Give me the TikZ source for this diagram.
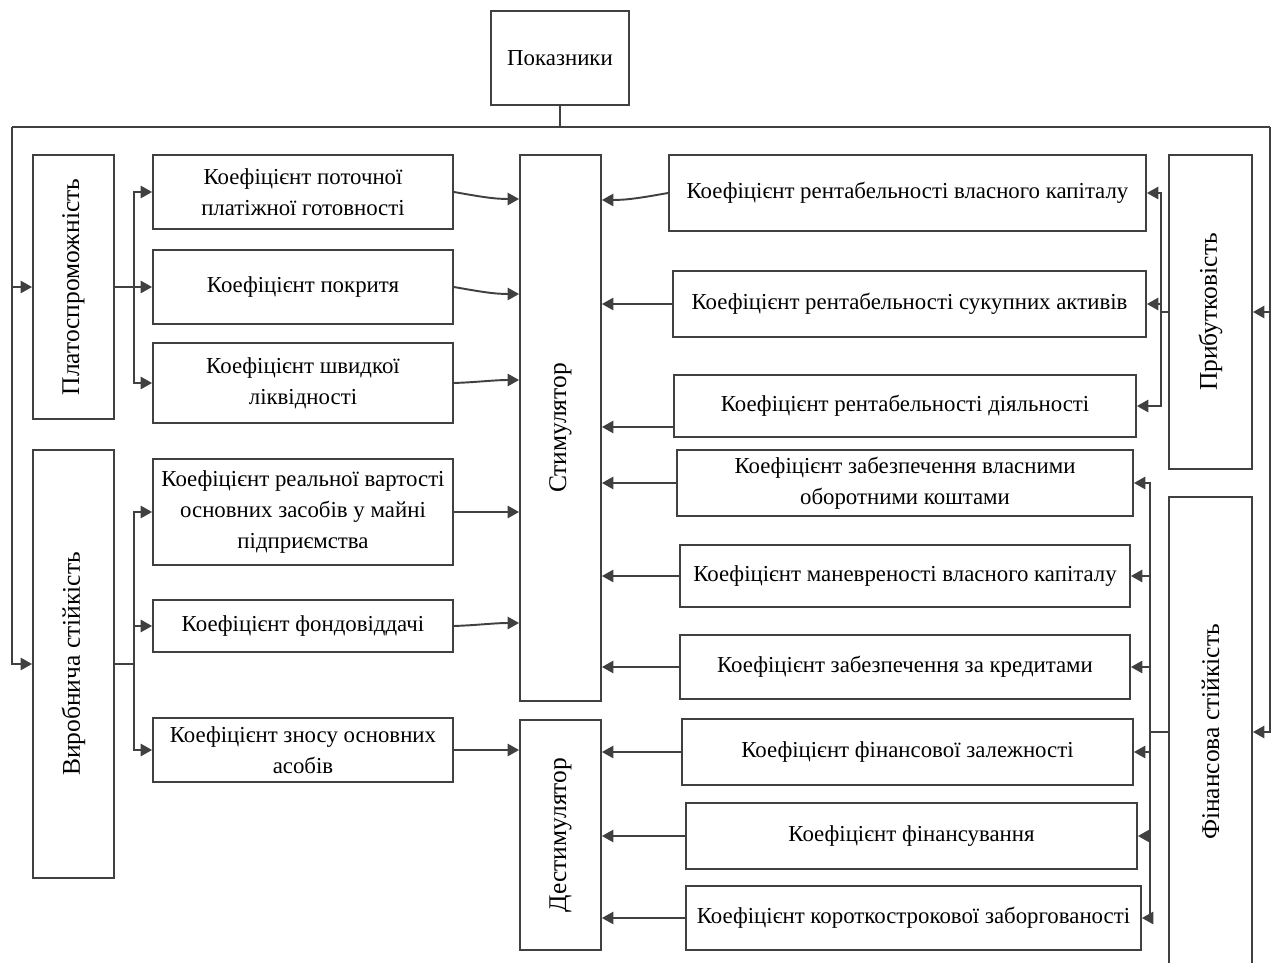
\documentclass[tikz,border=0pt]{standalone}
\usepackage{fontspec}
\setmainfont{Liberation Serif}
\usetikzlibrary{arrows.meta}

\begin{document}
\begin{tikzpicture}[x=0.02cm,y=-0.02cm]
	\tikzstyle{box}=[draw=black!75, line width=1.1pt, align=center, inner sep=2pt, font=\fontsize{13}{17.5}\selectfont]
	\tikzstyle{vbox}=[box, rotate=90, font=\fontsize{14.5}{17.5}\selectfont]
	\tikzstyle{line}=[draw=black!75, line width=1.1pt]
	\tikzstyle{arr}=[line, -{Triangle[length=6.5pt,width=7pt]}]
	\useasboundingbox (0,0) rectangle (1279,963);
	% top
	\node (pok) [box, minimum width=2.76cm, minimum height=1.88cm] at (560,58) {Показники};
	% groups (rotated: north = left side, south = right side)
	\node (plat) [vbox, minimum width=5.28cm, minimum height=1.62cm] at (73.5,287) {Платоспроможність};
	\node (vyr) [vbox, minimum width=8.56cm, minimum height=1.62cm] at (73.5,664) {Виробнича стійкість};
	\node (prib) [vbox, minimum width=6.28cm, minimum height=1.66cm] at (1210.5,312) {Прибутковість};
	\node (fin) [vbox, minimum width=9.4cm, minimum height=1.66cm] at (1210.5,732) {Фінансова стійкість};
	\node (stim) [vbox, minimum width=10.92cm, minimum height=1.62cm] at (560.5,428) {Стимулятор};
	\node (dest) [vbox, minimum width=4.6cm, minimum height=1.62cm] at (560.5,835) {Дестимулятор};
	% left indicators
	\node (l1) [box, minimum width=6cm, minimum height=1.48cm] at (303,192) {Коефіцієнт поточної\\платіжної готовності};
	\node (l2) [box, minimum width=6cm, minimum height=1.48cm] at (303,287) {Коефіцієнт покритя};
	\node (l3) [box, minimum width=6cm, minimum height=1.6cm] at (303,383) {Коефіцієнт швидкої\\ліквідності};
	\node (l4) [box, minimum width=6cm, minimum height=2.12cm] at (303,512) {Коефіцієнт реальної вартості\\основних засобів у майні\\підприємства};
	\node (l5) [box, minimum width=6cm, minimum height=1.04cm] at (303,626) {Коефіцієнт фондовіддачі};
	\node (l6) [box, minimum width=6cm, minimum height=1.28cm] at (303,750) {Коефіцієнт зносу основних\\асобів};
	% right indicators
	\node (r1) [box, minimum width=9.54cm, minimum height=1.52cm] at (907.5,193) {Коефіцієнт рентабельності власного капіталу};
	\node (r2) [box, minimum width=9.46cm, minimum height=1.32cm] at (909.5,304) {Коефіцієнт рентабельності сукупних активів};
	\node (r3) [box, minimum width=9.24cm, minimum height=1.24cm] at (905,406) {Коефіцієнт рентабельності діяльності};
	\node (r4) [box, minimum width=9.12cm, minimum height=1.32cm] at (905,483) {Коефіцієнт забезпечення власними\\оборотними коштами};
	\node (r5) [box, minimum width=9cm, minimum height=1.24cm] at (905,576) {Коефіцієнт маневреності власного капіталу};
	\node (r6) [box, minimum width=9cm, minimum height=1.28cm] at (905,667) {Коефіцієнт забезпечення за кредитами};
	\node (r7) [box, minimum width=9.02cm, minimum height=1.32cm] at (907.5,752) {Коефіцієнт фінансової залежності};
	\node (r8) [box, minimum width=9.02cm, minimum height=1.32cm] at (911.5,836) {Коефіцієнт фінансування};
	\node (r9) [box, minimum width=9.1cm, minimum height=1.28cm] at (913.5,918) {Коефіцієнт короткострокової заборгованості};
	% main bus
	\coordinate (top) at (560,127);
	\coordinate (tl) at (12,127);
	\coordinate (tr) at (1270,127);
	\draw[line] (pok.south) -- (top);
	\draw[line] (tl) -- (tr);
	\draw[arr] (tl) |- (plat.north);
	\draw[arr] (tl) |- (vyr.north);
	\draw[arr] (tr) |- (prib.south);
	\draw[arr] (tr) |- (fin.south);
	% group branches
	\coordinate (pj) at (134,287);
	\draw[line] (plat.south) -- (pj);
	\foreach \n in {l1,l2,l3} \draw[arr] (pj) |- (\n.west);
	\coordinate (vj) at (134,664);
	\draw[line] (vyr.south) -- (vj);
	\foreach \n in {l4,l5,l6} \draw[arr] (vj) |- (\n.west);
	\coordinate (bj) at (1161,312);
	\draw[line] (prib.north) -- (bj);
	\foreach \n in {r1,r2,r3} \draw[arr] (bj) |- (\n.east);
	\coordinate (fj) at (1150,732);
	\draw[line] (fin.north) -- (fj);
	\foreach \n in {r4,r5,r6,r7,r8,r9} \draw[arr] (fj) |- (\n.east);
	% to stimulator / destimulator
	\coordinate (s1) at (l1.east -| stim.north);
	\coordinate (s2) at (l2.east -| stim.north);
	\coordinate (s3) at (l3.east -| stim.north);
	\draw[arr] (l1.east) to[out=-10,in=180] ([yshift=-0.14cm]s1);
	\draw[arr] (l2.east) to[out=-10,in=180] ([yshift=-0.14cm]s2);
	\draw[arr] (l3.east) to[out=2,in=180] ([yshift=0.06cm]s3);
	\draw[arr] (l4.east) -- (l4.east -| stim.north);
	\draw[arr] (l5.east) to[out=2,in=180] ([yshift=0.06cm]l5.east -| stim.north);
	\draw[arr] (l6.east) -- (l6.east -| dest.north);
	\coordinate (t1) at (r1.west -| stim.south);
	\coordinate (t3) at (r3.west -| stim.south);
	\draw[arr] (r1.west) to[out=190,in=0] ([yshift=-0.14cm]t1);
	\draw[arr] (r2.west) -- (r2.west -| stim.south);
	\draw[arr] ([yshift=-0.42cm]r3.west) -- ([yshift=-0.42cm]t3);
	\foreach \n in {r4,r5,r6} \draw[arr] (\n.west) -- (\n.west -| stim.south);
	\foreach \n in {r7,r8,r9} \draw[arr] (\n.west) -- (\n.west -| dest.south);
\end{tikzpicture}
\end{document}
